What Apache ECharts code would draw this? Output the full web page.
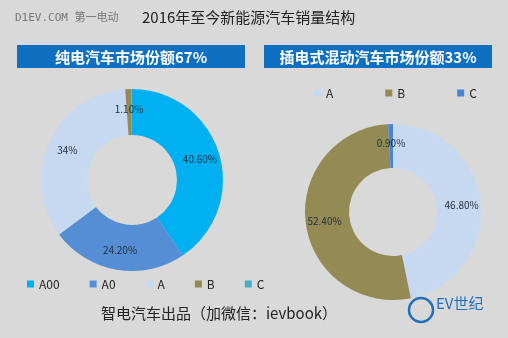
<!DOCTYPE html>
<html>
<head>
<meta charset="utf-8">
<script src="https://cdn.jsdelivr.net/npm/echarts@6/dist/echarts.min.js"></script>
<style>
html,body{margin:0;padding:0;background:#d9d9d9;}
#c{width:508px;height:338px;}
</style>
</head>
<body>
<div id="c"></div>
<script>
var bevNames = ['A00', 'A0', 'A', 'B', 'C'];
var bevValues = [40.6, 24.2, 34, 1.1, 0.1];
var bevLabels = ['40.60%', '24.20%', '34%', '1.10%', ''];
var bevColors = ['#00b0f0', '#558ed5', '#c6d9f1', '#948a54', '#4bacc6'];

var phevNames = ['A', 'B', 'C'];
var phevValues = [46.8, 52.4, 0.9];
var phevLabels = ['46.80%', '52.40%', '0.90%'];
var phevColors = ['#c6d9f1', '#948a54', '#4a86d0'];

var FONT = '"Noto Sans CJK SC","Noto Sans",sans-serif';

function mkData(names, values, labels, colors) {
  return names.map(function (n, i) {
    return { name: n, value: values[i], label: { formatter: labels[i] }, itemStyle: { color: colors[i] } };
  });
}

var chart = echarts.init(document.getElementById('c'), null, { renderer: 'canvas' });
chart.setOption({
  backgroundColor: '#d9d9d9',
  animation: false,
  legend: [
    {
      left: 22, top: 273, itemWidth: 7, itemHeight: 7, itemGap: 30,
      textStyle: { fontSize: 12, color: '#222', fontFamily: FONT },
      data: bevNames.map(function (n, i) { return { name: n, itemStyle: { color: bevColors[i] }, icon: 'rect' }; })
    },
    {
      left: 309, top: 82, itemWidth: 7, itemHeight: 7, itemGap: 52,
      textStyle: { fontSize: 12, color: '#222', fontFamily: FONT },
      data: phevNames.map(function (n, i) { return { name: n, itemStyle: { color: phevColors[i] }, icon: 'rect' }; })
    }
  ],
  graphic: [
    { type: 'text', left: 15, top: 13, style: { text: 'D1EV.COM 第一电动', fontSize: 11, fill: '#777', fontFamily: '"DejaVu Sans Mono","Noto Sans CJK SC",monospace' } },
    { type: 'text', left: 142, top: 10, style: { text: '2016年至今新能源汽车销量结构', fontSize: 15, fill: '#222', fontFamily: FONT } },
    { type: 'rect', shape: { x: 17, y: 45, width: 228, height: 23 }, style: { fill: '#0f6fc0' } },
    { type: 'rect', shape: { x: 264, y: 45, width: 228, height: 23 }, style: { fill: '#0f6fc0' } },
    { type: 'text', x: 131, y: 57, style: { text: '纯电汽车市场份额67%', fontSize: 15, fontWeight: 'bold', fill: '#fff', align: 'center', verticalAlign: 'middle', fontFamily: FONT } },
    { type: 'text', x: 378, y: 57, style: { text: '插电式混动汽车市场份额33%', fontSize: 15, fontWeight: 'bold', fill: '#fff', align: 'center', verticalAlign: 'middle', fontFamily: FONT } },
    { type: 'text', x: 219, y: 313, style: { text: '智电汽车出品（加微信：ievbook）', fontSize: 15, fill: '#222', align: 'center', verticalAlign: 'middle', fontFamily: FONT } },
    { type: 'circle', shape: { cx: 421, cy: 310, r: 12 }, style: { fill: 'none', stroke: '#1f6fc0', lineWidth: 2.5 } },
    { type: 'text', x: 436, y: 303, style: { text: 'EV世纪', fontSize: 15, fill: '#1f6fc0', verticalAlign: 'middle', fontFamily: FONT } }
  ],
  series: [
    {
      type: 'pie', center: [132, 180], radius: [45, 91], startAngle: 90, clockwise: true,
      avoidLabelOverlap: false,
      label: { position: 'inside', fontSize: 10, color: '#1e2a3a', fontFamily: FONT },
      labelLine: { show: false },
      itemStyle: { borderWidth: 0 },
      data: mkData(bevNames, bevValues, bevLabels, bevColors)
    },
    {
      type: 'pie', center: [393, 212], radius: [44, 88], startAngle: 90, clockwise: true,
      avoidLabelOverlap: false,
      label: { position: 'inside', fontSize: 10, color: '#1e2a3a', fontFamily: FONT },
      labelLine: { show: false },
      itemStyle: { borderWidth: 0 },
      data: mkData(phevNames, phevValues, phevLabels, phevColors)
    }
  ]
});
</script>
</body>
</html>
